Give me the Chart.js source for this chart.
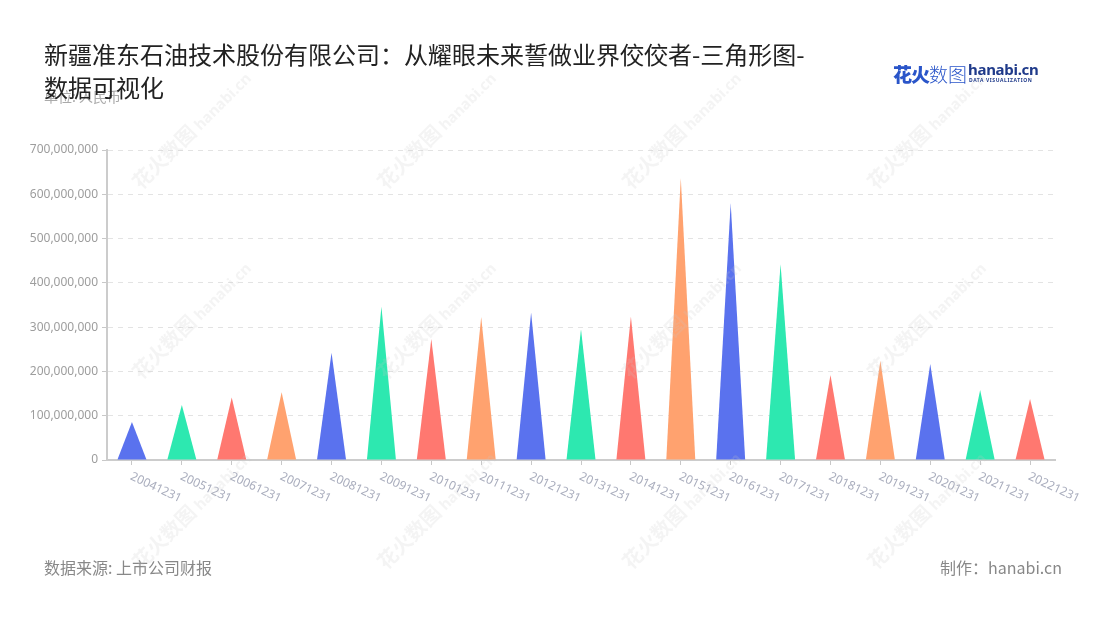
<!DOCTYPE html>
<html>
<head>
<meta charset="utf-8">
<script src="https://cdn.jsdelivr.net/npm/chart.js@4.4.0/dist/chart.umd.min.js"></script>
<style>
body { margin: 0; background: #fff; font-family: "Noto Sans CJK SC", "Noto Sans", sans-serif; }
#wrap { position: relative; width: 1100px; height: 620px; overflow: hidden; }
#chart { position: absolute; left: 0; top: 0; }
.title { position: absolute; left: 44px; top: 37px; font-size: 24px; line-height: 33px; color: #222; z-index: 2; }
.unit { position: absolute; left: 44px; top: 86px; font-size: 14px; color: #aaa; z-index: 1; }
.source { position: absolute; left: 44px; top: 555px; font-size: 16px; color: #888; }
.maker { position: absolute; right: 38px; top: 555px; font-size: 16px; color: #888; }
.logo { position: absolute; left: 893px; top: 60px; white-space: nowrap; }
.logo .cn { font-size: 19px; font-weight: 900; color: #2a55c9; letter-spacing: -1px; }
.logo .cn2 { font-size: 19px; font-weight: 300; color: #2a55c9; }
.logo .en { position: absolute; left: 75px; top: -1px; font-family: "Noto Sans", sans-serif; font-size: 15px; font-weight: 700; color: #1f3a8a; letter-spacing: -0.3px; }
.logo .sub { position: absolute; left: 76px; top: 17px; font-family: "Noto Sans", sans-serif; font-size: 5px; font-weight: 700; color: #1f3a8a; letter-spacing: 0.6px; }
.wm { position: absolute; transform: rotate(-45deg); transform-origin: left center; font-size: 20px; font-weight: 700; color: rgba(200,200,200,0.2); white-space: nowrap; pointer-events: none; z-index: 3; }
.wm small { font-family: "Noto Sans", sans-serif; font-size: 15px; margin-left: 4px; }
</style>
</head>
<body>
<div id="wrap">
  <canvas id="chart" width="1100" height="620"></canvas>
  <div class="unit">单位: 人民币</div>
  <div class="title">新疆准东石油技术股份有限公司：从耀眼未来誓做业界佼佼者-三角形图-<br>数据可视化</div>
  <div class="logo"><span class="cn">花火</span><span class="cn2">数图</span><span class="en">hanabi.cn</span><span class="sub">DATA VISUALIZATION</span></div>
  <div class="source">数据来源: 上市公司财报</div>
  <div class="maker">制作：hanabi.cn</div>
</div>
<script>
// 年报日期
const categories = ['20041231', '20051231', '20061231', '20071231', '20081231', '20091231', '20101231',
    '20111231', '20121231', '20131231', '20141231', '20151231', '20161231', '20171231', '20181231',
    '20191231', '20201231', '20211231', '20221231'];

// 数值（人民币）
const values = [86000000, 124000000, 141000000, 153000000, 242000000, 346000000, 273000000,
    323000000, 333000000, 295000000, 324000000, 637000000, 580000000, 442000000, 192000000,
    224000000, 217000000, 158000000, 138000000];

const yTicks = [0, 100000000, 200000000, 300000000, 400000000, 500000000, 600000000, 700000000];

const barColors = ['#5a72ee', '#2de8b0', '#ff7870', '#ffa26f'];

// watermark grid
let wrap = document.getElementById('wrap');
for (let r = 0; r < 4; r++) {
    for (let c = 0; c < 4; c++) {
        let wm = document.createElement('div');
        wm.className = 'wm';
        wm.innerHTML = '花火数图<small>hanabi.cn</small>';
        wm.style.left = (135 + c * 245) + 'px';
        wm.style.top = (-20 + r * 190) + 'px';
        wrap.appendChild(wm);
    }
}

// draw each bar as a triangle using the bar element geometry
const trianglePlugin = {
    id: 'triangles',
    afterDatasetsDraw(chart) {
        let ctx = chart.ctx;
        let meta = chart.getDatasetMeta(0);
        ctx.save();
        meta.data.forEach((bar, i) => {
            let p = bar.getProps(['x', 'y', 'base', 'width'], true);
            ctx.beginPath();
            ctx.moveTo(p.x - p.width / 2, p.base);
            ctx.lineTo(p.x, p.y);
            ctx.lineTo(p.x + p.width / 2, p.base);
            ctx.closePath();
            ctx.fillStyle = barColors[i % barColors.length];
            ctx.fill();
        });
        ctx.restore();
    }
};

// rotated category labels (going down to the right)
const xLabelPlugin = {
    id: 'xlabels',
    afterDraw(chart) {
        let ctx = chart.ctx;
        let xs = chart.scales.x;
        ctx.save();
        ctx.font = '12px "Noto Sans", sans-serif';
        ctx.fillStyle = '#a9adbd';
        ctx.textAlign = 'left';
        ctx.textBaseline = 'middle';
        categories.forEach((label, i) => {
            let x = xs.getPixelForTick(i);
            ctx.save();
            ctx.translate(x - 1, xs.top + 16);
            ctx.rotate(25 * Math.PI / 180);
            ctx.fillText(label, 0, 0);
            ctx.restore();
        });
        ctx.restore();
    }
};

let ctx = document.getElementById('chart').getContext('2d');
window.barChart = new Chart(ctx, {
    type: 'bar',
    data: {
        labels: categories,
        datasets: [{
            data: values,
            backgroundColor: 'rgba(0,0,0,0)',
            borderWidth: 0,
            barPercentage: 0.58,
            categoryPercentage: 1
        }]
    },
    options: {
        responsive: false,
        animation: false,
        layout: { padding: { left: 0, top: 150, right: 45, bottom: 0 } },
        plugins: { legend: { display: false }, tooltip: { enabled: false } },
        scales: {
            x: {
                afterFit: function (scale) { scale.height = 160; },
                grid: { display: true, drawOnChartArea: false, offset: false, tickLength: 5, tickColor: '#c8c8c8', tickWidth: 1 },
                border: { display: true, color: '#cccccc', width: 2 },
                ticks: { display: false }
            },
            y: {
                min: 0,
                max: 700000000,
                afterFit: function (scale) { scale.width = 107; },
                afterBuildTicks: function (scale) { scale.ticks = yTicks.map(v => ({ value: v })); },
                grid: { color: '#e3e3e3', lineWidth: 1, tickLength: 5, tickColor: '#c8c8c8', tickBorderDash: [] },
                border: { display: true, color: '#cccccc', width: 2, dash: [5, 5] },
                ticks: {
                    padding: 4,
                    color: '#9d9d9d',
                    font: { size: 12, family: '"Noto Sans", sans-serif' },
                    callback: function (v) { return Number(v).toLocaleString('en-US'); }
                }
            }
        }
    },
    plugins: [trianglePlugin, xLabelPlugin]
});
</script>
</body>
</html>
